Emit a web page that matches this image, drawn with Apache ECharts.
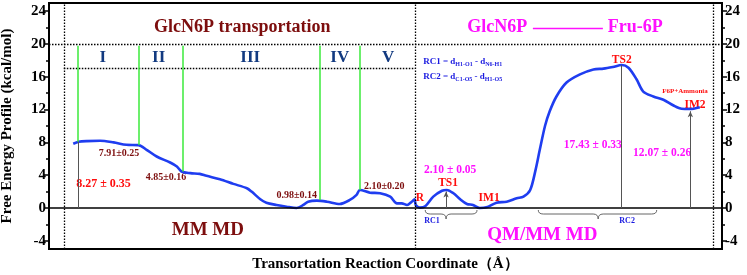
<!DOCTYPE html>
<html>
<head>
<meta charset="utf-8">
<script src="https://cdn.jsdelivr.net/npm/echarts@6/dist/echarts.min.js"></script>
<style>
  html, body { margin: 0; padding: 0; background: #fff; }
  #chart { width: 747px; height: 275px; }
</style>
</head>
<body>
<div id="chart"></div>
<script>
// free energy profile along the combined reaction coordinate (arbitrary 0-100 units)
const curveX = [3.6, 4.4, 5.6, 7.6, 9.6, 11.5, 13.3, 14.5, 16.0, 18.0, 19.0, 19.7, 21.0, 22.4,
  23.4, 25.4, 27.4, 29.4, 30.1, 31.4, 32.3, 33.8, 35.3, 36.8, 37.8, 38.5, 39.8, 41.3, 43.2,
  44.7, 45.7, 46.2, 47.7, 49.2, 50.7, 51.7, 52.4, 53.2, 53.9, 54.3, 54.5, 55.1, 55.9, 57.1,
  58.4, 59.1, 60.1, 61.1, 62.1, 63.0, 64.0, 65.0, 66.5, 68.0, 69.5, 70.5, 71.5, 72.3, 72.9,
  73.7, 74.4, 75.4, 76.9, 78.9, 80.9, 82.4, 83.8, 85.1, 86.1, 87.3, 88.3, 89.8, 91.3, 92.8,
  94.0, 95.2, 96.7];
const curveY = [7.83, 8.07, 8.16, 8.2, 8.0, 7.71, 7.67, 7.1, 6.28, 5.55, 5.06, 4.45, 4.25, 4.16,
  3.92, 3.51, 2.94, 2.41, 2.0, 1.06, 0.65, 0.37, 0.16, 0.0, 0.37, 0.77, 0.9, 0.77, 0.49,
  0.98, 1.6, 2.2, 1.87, 1.8, 1.38, 0.57, 0.57, 0.37, 0.77, 1.06, 0.37, 0.05, 0.2, 1.39,
  2.1, 2.2, 1.8, 1.06, 0.49, 0.37, 0.0, 0.08, 0.65, 0.77, 1.19, 1.39, 2.2, 4.65, 7.0,
  10.0, 11.8, 13.6, 15.3, 16.3, 16.9, 17.0, 17.2, 17.43, 17.1, 15.7, 14.2, 13.6, 13.2, 12.5,
  12.1, 12.07, 12.3];

// phase separators (green) and their lower ends on the curve
const stageX = [4.3, 13.4, 19.8, 40.3, 46.1];
const stageBottom = [8.07, 7.67, 4.45, 0.98, 2.2];
const stageNames = ['I', 'II', 'III', 'IV', 'V'];
const stageNameX = [8.0, 16.3, 29.9, 43.2, 50.4];

// drop lines / arrows from zero to energies
const dropX = [4.3, 85.1];
const dropY = [8.07, 17.43];
const arrowX = [59.0, 95.3];
const arrowY = [2.0, 11.8];

// dotted guides
const guideX = [2.2, 54.4, 98.7];
const boxTop = 20;
const boxInner = 17.1;

// RC braces [start, end, tip]
const braces = [[55.9, 63.6, 59.0], [72.7, 90.3, 81.6]];

// tick labels
const yTicks = [-4, 0, 4, 8, 12, 16, 20, 24];
const yMinor = [-4, -2, 0, 2, 4, 6, 8, 10, 12, 14, 16, 18, 20, 22, 24];

// annotations: [x, y, text, style]
const notes = [
  [28.7, 22.0, 'GlcN6P transportation', 'title1'],
  [66.6, 22.0, 'GlcN6P', 'title2'],
  [87.1, 22.0, 'Fru-6P', 'title2'],
  [55.6, 17.9, '{t|RC1 = d}{s|H1-O1}{t| - d}{s|N6-H1}', 'rc'],
  [55.6, 16.0, '{t|RC2 = d}{s|C1-O5}{t| - d}{s|H1-O5}', 'rc'],
  [85.1, 18.1, 'TS2', 'state'],
  [94.5, 14.3, 'F6P+Ammonia', 'tiny'],
  [96.0, 12.5, 'IM2', 'state'],
  [80.8, 7.7, '17.43 ± 0.33', 'qm'],
  [91.1, 6.7, '12.07 ± 0.26', 'qm'],
  [8.1, 2.9, '8.27 ± 0.35', 'red'],
  [10.4, 6.6, '7.91±0.25', 'mm'],
  [17.4, 3.7, '4.85±0.16', 'mm'],
  [36.8, 1.5, '0.98±0.14', 'mm'],
  [49.8, 2.6, '2.10±0.20', 'mm'],
  [55.1, 1.2, 'R', 'state'],
  [59.3, 3.1, 'TS1', 'state'],
  [59.6, 4.65, '2.10 ± 0.05', 'qm'],
  [65.4, 1.2, 'IM1', 'state'],
  [56.9, -1.6, 'RC1', 'rcSmall'],
  [85.9, -1.6, 'RC2', 'rcSmall'],
  [23.6, -2.7, 'MM MD', 'mmBig'],
  [73.3, -3.3, 'QM/MM MD', 'qmBig']
];

const serif = "'Liberation Serif', 'Times New Roman', serif";
const noteStyle = {
  title1: { color: '#7d0e0e', fontSize: 18 },
  title2: { color: '#ff10ff', fontSize: 18 },
  rc: { color: '#1a1ae0', fontSize: 9, align: 'left' },
  state: { color: '#ff0d0d', fontSize: 11.5 },
  tiny: { color: '#ff0d0d', fontSize: 7 },
  qm: { color: '#ff10ff', fontSize: 11.5 },
  red: { color: '#ff0d0d', fontSize: 12 },
  mm: { color: '#7d0e0e', fontSize: 10 },
  rcSmall: { color: '#1a1ae0', fontSize: 8 },
  mmBig: { color: '#7d0e0e', fontSize: 19 },
  qmBig: { color: '#ff10ff', fontSize: 19 }
};
const stageStyle = { color: '#123a80', fontSize: 17 };

const chart = echarts.init(document.getElementById('chart'));

const dotted = { color: '#000', type: [1.5, 1.5], width: 1.3 };
const markLines = [];
guideX.forEach(x => markLines.push([
  { coord: [x, -5], symbol: 'none' },
  { coord: [x, 25], symbol: 'none', lineStyle: dotted }
]));
markLines.push([
  { coord: [0, boxTop], symbol: 'none' },
  { coord: [100, boxTop], symbol: 'none', lineStyle: dotted }
]);
markLines.push([
  { coord: [guideX[0], boxInner], symbol: 'none' },
  { coord: [guideX[1], boxInner], symbol: 'none', lineStyle: dotted }
]);
stageX.forEach((x, i) => markLines.push([
  { coord: [x, 19.8], symbol: 'none' },
  { coord: [x, stageBottom[i]], symbol: 'none', lineStyle: { color: '#3bea3b', type: 'solid', width: 1.5 } }
]));
markLines.push([
  { coord: [0, 0], symbol: 'none' },
  { coord: [100, 0], symbol: 'none', lineStyle: { color: '#000', type: 'solid', width: 1.6 } }
]);
dropX.forEach((x, i) => markLines.push([
  { coord: [x, 0], symbol: 'none' },
  { coord: [x, dropY[i]], symbol: 'none', lineStyle: { color: '#555', type: 'solid', width: 1 } }
]));
arrowX.forEach((x, i) => markLines.push([
  { coord: [x, 0], symbol: 'none' },
  { coord: [x, arrowY[i]], symbol: 'arrow', symbolSize: [4, 6], lineStyle: { color: '#555', type: 'solid', width: 1 } }
]));

function makeLabel(text, st) {
  return {
    show: true,
    position: 'inside',
    formatter: text,
    color: st.color,
    opacity: 1,
    fontSize: st.fontSize,
    fontWeight: 'bold',
    fontFamily: serif,
    align: st.align || 'center',
    verticalAlign: 'middle',
    rich: {
      t: { color: st.color, fontSize: st.fontSize, fontWeight: 'bold', fontFamily: serif },
      s: { color: st.color, fontSize: 6, fontWeight: 'bold', fontFamily: serif, padding: [6, 0, 0, 0] }
    }
  };
}

const noteData = notes.map(n => ({ value: [n[0], n[1]], label: makeLabel(n[2], noteStyle[n[3]]) }));
stageNames.forEach((s, i) => noteData.push({
  value: [stageNameX[i], 18.4],
  label: makeLabel(s, stageStyle)
}));

function yAxisDef(pos, values, len, labels) {
  return {
    type: 'value', position: pos, min: -5, max: 25,
    axisLine: { show: false },
    splitLine: { show: false },
    axisTick: { show: true, inside: false, length: len, customValues: values, lineStyle: { color: '#000', width: 1.5 } },
    axisLabel: {
      show: labels, customValues: values, margin: 3,
      color: '#000', fontSize: 15, fontWeight: 'bold', fontFamily: serif
    }
  };
}

const yLeft = yAxisDef('left', yTicks, 5, true);
yLeft.name = 'Free Energy Profile (kcal/mol)';
yLeft.nameLocation = 'middle';
yLeft.nameGap = 34;
yLeft.nameTextStyle = { color: '#000', fontSize: 15, fontWeight: 'bold', fontFamily: serif };

chart.setOption({
  animation: false,
  grid: {
    left: 49, right: 25, top: 3, bottom: 26, containLabel: false, outerBoundsMode: 'none',
    show: true, borderColor: '#000', borderWidth: 2
  },
  xAxis: {
    type: 'value', min: 0, max: 100,
    axisLine: { show: false }, axisTick: { show: false }, axisLabel: { show: false },
    splitLine: { show: false },
    name: 'Transortation Reaction Coordinate（Å）',
    nameLocation: 'middle', nameGap: 8,
    nameTextStyle: { color: '#000', fontSize: 15, fontWeight: 'bold', fontFamily: serif, verticalAlign: 'top' }
  },
  yAxis: [
    yLeft,
    yAxisDef('right', yTicks, 5, true),
    yAxisDef('left', yMinor, 3, false),
    yAxisDef('right', yMinor, 3, false)
  ],
  series: [
    {
      type: 'line', data: [], silent: true,
      markLine: { silent: true, label: { show: false }, data: markLines }
    },
    {
      type: 'line',
      data: curveX.map((x, i) => [x, curveY[i]]),
      smooth: 0.3, showSymbol: false, silent: true,
      lineStyle: { color: '#1f3df0', width: 2.6 }
    },
    {
      type: 'custom', silent: true,
      data: braces.map(b => [b[0], b[1], b[2], 0]),
      encode: { x: [0, 1, 2], y: 3 },
      renderItem: (params, api) => {
        const a = api.coord([api.value(0), 0]);
        const b = api.coord([api.value(1), 0]);
        const m = api.coord([api.value(2), 0]);
        const y0 = a[1] + 2;
        const y1 = y0 + 4;
        const y2 = y0 + 9;
        const d = `M${a[0]},${y0} Q${a[0]},${y1} ${a[0] + 5},${y1} L${m[0] - 5},${y1} ` +
          `Q${m[0]},${y1} ${m[0]},${y2} Q${m[0]},${y1} ${m[0] + 5},${y1} L${b[0] - 5},${y1} ` +
          `Q${b[0]},${y1} ${b[0]},${y0}`;
        return { type: 'path', shape: { pathData: d }, style: { stroke: '#666', fill: null, lineWidth: 1 } };
      }
    },
    {
      type: 'scatter', symbolSize: 0, silent: true,
      itemStyle: { opacity: 1 },
      data: noteData
    },
    {
      // connector between the two magenta titles
      type: 'line', silent: true, showSymbol: false,
      data: [[71.9, 21.9], [82.3, 21.9]],
      lineStyle: { color: '#ff10ff', width: 1.5 }
    }
  ]
});
</script>
</body>
</html>
